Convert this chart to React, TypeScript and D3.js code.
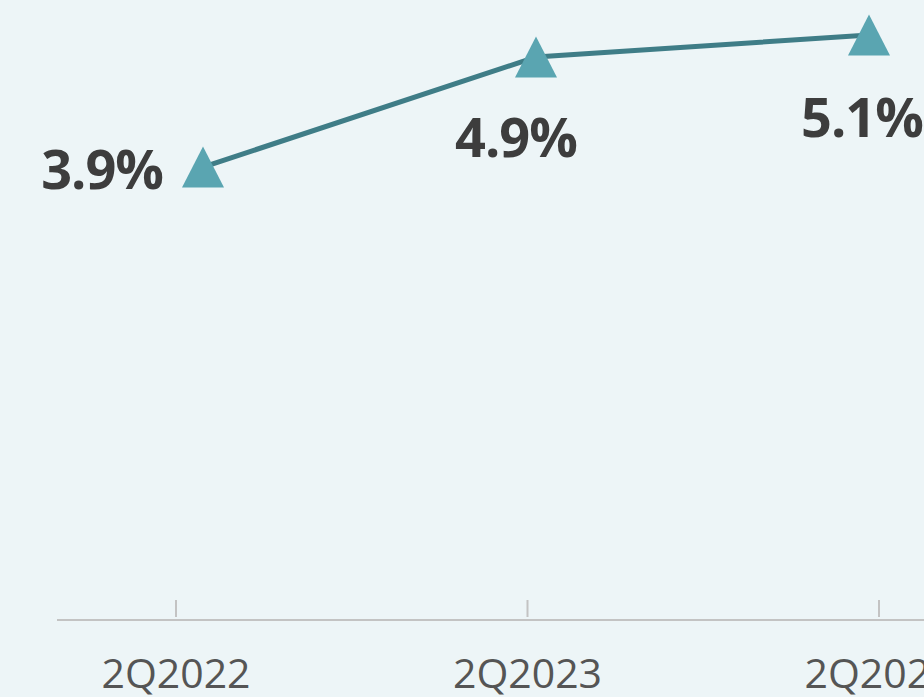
import React from "react";
import * as d3 from "d3";

const categories = ["2Q2022", "2Q2023", "2Q2024"];
const values = [3.9, 4.9, 5.1];
const valueLabels = ["3.9%", "4.9%", "5.1%"];

const W = 924;
const H = 697;
const BG = "#edf5f7";
const LINE = "#3f7d87";
const MARK = "#5aa5b1";
const TEXT = "#3d3d3d";
const AXIS_TEXT = "#555555";
const AXIS = "#c3c3c3";
const FONT = "'Open Sans', 'DejaVu Sans', sans-serif";

// label placement relative to each marker: [dx, dy, anchor]
const labelOffsets: [number, number, string][] = [
  [-40, 22, "end"],
  [-20, 100, "middle"],
  [-7, 102, "middle"],
];

const TRI_HALF_W = 21;
const TRI_HALF_H = 20.5;

export default function App() {
  const xTick = d3.scalePoint<string>().domain(categories).range([176, 879]);
  const xPt = d3.scalePoint<string>().domain(categories).range([203, 869]);
  const y = d3.scaleLinear().domain([0, 5.1]).range([596.5, 35]);

  const line = d3
    .line<number>()
    .x((_, i) => xPt(categories[i]) as number)
    .y((d) => y(d));

  const triPath = d3.path();
  triPath.moveTo(0, -TRI_HALF_H);
  triPath.lineTo(TRI_HALF_W, TRI_HALF_H);
  triPath.lineTo(-TRI_HALF_W, TRI_HALF_H);
  triPath.closePath();
  const tri = triPath.toString();

  return (
    <svg
      width={W}
      height={H}
      style={{ position: "absolute", left: 0, top: 0, background: BG }}
    >
      <rect x={0} y={0} width={W} height={H} fill={BG} />
      <line x1={57} x2={W} y1={620} y2={620} stroke={AXIS} strokeWidth={2} />
      {categories.map((c) => (
        <g key={c} transform={`translate(${xTick(c)},0)`}>
          <line y1={600} y2={617} stroke={AXIS} strokeWidth={2} />
          <text
            y={688}
            textAnchor="middle"
            fontFamily={FONT}
            fontSize={41}
            fill={AXIS_TEXT}
          >
            {c}
          </text>
        </g>
      ))}
      <path d={line(values) || ""} fill="none" stroke={LINE} strokeWidth={5} />
      {values.map((v, i) => {
        const cx = xPt(categories[i]) as number;
        const cy = y(v);
        return (
          <path
            key={i}
            d={tri}
            transform={`translate(${cx},${cy})`}
            fill={MARK}
          />
        );
      })}
      {values.map((v, i) => {
        const cx = xPt(categories[i]) as number;
        const cy = y(v);
        const [dx, dy, anchor] = labelOffsets[i];
        return (
          <text
            key={i}
            x={cx + dx}
            y={cy + dy}
            textAnchor={anchor as any}
            fontFamily={FONT}
            fontWeight={700}
            fontSize={54}
            fill={TEXT}
            letterSpacing={-1}
          >
            {valueLabels[i]}
          </text>
        );
      })}
    </svg>
  );
}
